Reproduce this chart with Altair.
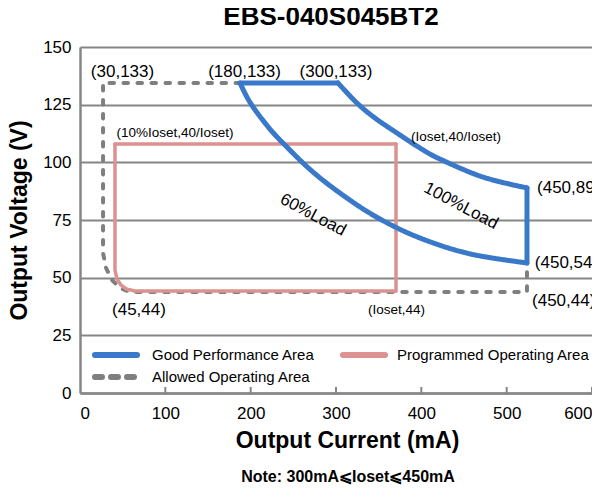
import altair as alt
import pandas as pd

FONT = "Liberation Sans, Arial, Helvetica, sans-serif"
SERIES = ["Good Performance Area", "Allowed Operating Area", "Programmed Operating Area"]
COLORS = ["#3a78c9", "#7f7f7f", "#dc9291"]
DASHES = [[1, 0], [4.5, 9.5], [1, 0]]

# Good performance area (blue) pieces
good_top_x = [187.5, 302.3]
good_top_y = [134.4, 134.4]
good_outer_x = [302.3, 324.6, 345.7, 371.5, 398.4, 421.9, 472.3, 523.8]
good_outer_y = [134.4, 125.7, 119.2, 112.7, 106.2, 101.4, 93.6, 88.9]
good_right_x = [523.8, 523.8]
good_right_y = [88.9, 56.4]
good_inner_x = [523.8, 457.0, 398.4, 351.6, 312.9, 273.0, 236.7, 218.0, 199.2, 187.5]
good_inner_y = [56.4, 60.3, 67.2, 75.4, 84.5, 95.8, 108.8, 116.5, 126.0, 134.4]

# Programmed operating area (pink) pieces
prog_top_x = [41.0, 370.3]
prog_top_y = [108.0, 108.0]
prog_right_x = [370.3, 370.3]
prog_right_y = [108.0, 44.2]
prog_left_x = [41.0, 41.0, 43.4, 48.0, 55.0, 64.5, 370.3]
prog_left_y = [108.0, 53.3, 49.4, 46.8, 45.0, 44.2, 44.2]

# Allowed operating area (gray dashed)
allow_x = [187.5, 27.0, 27.0, 30.5, 37.5, 46.9, 58.6, 523.8, 523.8]
allow_y = [134.4, 134.4, 60.7, 54.2, 49.0, 45.5, 43.8, 43.8, 56.4]

# annotations
big_text = ["(30,133)", "(180,133)", "(300,133)", "(45,44)"]
big_x = [49.8, 192.8, 300.0, 69.1]
big_y = [139.2, 139.2, 139.2, 36.0]
right_text = ["(450,89)", "(450,54)", "(450,44)"]
right_x = [535.6, 533.0, 529.7]
right_y = [88.9, 56.4, 39.9]
small_text = ["(10%Ioset,40/Ioset)", "(Ioset,40/Ioset)", "(Ioset,44)"]
small_x = [111.3, 440.6, 370.9]
small_y = [112.7, 111.0, 36.0]
load_text = ["60%Load", "100%Load"]
load_x = [273.0, 446.5]
load_y = [77.2, 81.1]

x_ticks = [0, 100, 200, 300, 400, 500, 600]
y_ticks = [0, 25, 50, 75, 100, 125, 150]


def pieces(series, parts):
    rows = []
    for seg, (xs, ys) in enumerate(parts):
        for i, (xv, yv) in enumerate(zip(xs, ys)):
            rows.append({"series": series, "seg": seg, "ord": i, "x": xv, "y": yv})
    return pd.DataFrame(rows)


good_df = pieces(SERIES[0], [(good_top_x, good_top_y), (good_outer_x, good_outer_y),
                             (good_right_x, good_right_y), (good_inner_x, good_inner_y)])
prog_df = pieces(SERIES[2], [(prog_top_x, prog_top_y), (prog_right_x, prog_right_y),
                             (prog_left_x, prog_left_y)])
allow_df = pieces(SERIES[1], [(allow_x, allow_y)])

xscale = alt.Scale(domain=[0, 600], nice=False, zero=False)
yscale = alt.Scale(domain=[0, 150], nice=False, zero=False)

x_enc = alt.X("x:Q", scale=xscale, axis=alt.Axis(
    values=x_ticks, grid=False, ticks=False, labelFontSize=17, labelPadding=12,
    labelColor="#000000", labelFont=FONT, domainColor="#868686", domainWidth=2.5,
    title="Output Current (mA)", titleFontSize=23, titleFont=FONT, titleFontWeight="bold",
    titleColor="#000000", titleX=267, titleY=47, titleAlign="center", titleBaseline="middle"))
y_enc = alt.Y("y:Q", scale=yscale, axis=alt.Axis(
    values=y_ticks, grid=True, gridColor="#868686", gridWidth=2, ticks=False,
    labelFontSize=17, labelPadding=9, labelColor="#000000", labelFont=FONT,
    domainColor="#868686", domainWidth=2.5,
    title="Output Voltage (V)", titleFontSize=23, titleFont=FONT, titleFontWeight="bold",
    titleColor="#000000", titleX=-61, titleY=173, titleAngle=-90, titleAlign="center",
    titleBaseline="middle"))

color_enc = alt.Color("series:N", scale=alt.Scale(domain=SERIES, range=COLORS), legend=None)
dash_enc = alt.StrokeDash("series:N", scale=alt.Scale(domain=SERIES, range=DASHES), legend=None)


def line_layer(df, width, cap, interp):
    return alt.Chart(df).mark_line(strokeWidth=width, strokeCap=cap, strokeJoin="round",
                                   interpolate=interp).encode(
        x=x_enc, y=y_enc, color=color_enc, strokeDash=dash_enc,
        detail="seg:N", order="ord:Q")


allow_layer = line_layer(allow_df, 4, "round", "linear")
prog_layer = line_layer(prog_df, 3.5, "round", "linear")
good_layer = line_layer(good_df, 5, "round", "cardinal")

tick_layer = alt.Chart(pd.DataFrame({"t": x_ticks[1:]})).mark_rule(
    color="#868686", strokeWidth=2).encode(
    x=alt.X("t:Q", scale=xscale), y=alt.value(346), y2=alt.value(340))

big_layer = alt.Chart(pd.DataFrame({"t": big_text, "x": big_x, "y": big_y})).mark_text(
    fontSize=17, font=FONT, color="#000000", align="center", baseline="middle").encode(
    x=alt.X("x:Q", scale=xscale), y=alt.Y("y:Q", scale=yscale), text="t:N")
right_layer = alt.Chart(pd.DataFrame({"t": right_text, "x": right_x, "y": right_y})).mark_text(
    fontSize=17, font=FONT, color="#000000", align="left", baseline="middle").encode(
    x=alt.X("x:Q", scale=xscale), y=alt.Y("y:Q", scale=yscale), text="t:N")
small_layer = alt.Chart(pd.DataFrame({"t": small_text, "x": small_x, "y": small_y})).mark_text(
    fontSize=13.5, font=FONT, color="#000000", align="center", baseline="middle").encode(
    x=alt.X("x:Q", scale=xscale), y=alt.Y("y:Q", scale=yscale), text="t:N")
load_layer = alt.Chart(pd.DataFrame({"t": load_text, "x": load_x, "y": load_y})).mark_text(
    fontSize=17, font=FONT, color="#000000", align="center", baseline="middle", angle=28).encode(
    x=alt.X("x:Q", scale=xscale), y=alt.Y("y:Q", scale=yscale), text="t:N")

# custom legend (inside the plot, lower-left)
one = pd.DataFrame({"k": [0]})
leg_layers = []
for name, color, dash, (sx, sy, lx) in zip(
        SERIES, COLORS, [None, [7, 9], None],
        [(15, 308, 72), (15, 330, 72), (263, 308, 317)]):
    kw = dict(color=color, strokeWidth=6, strokeCap="round")
    if dash is not None:
        kw["strokeDash"] = dash
    leg_layers.append(alt.Chart(one).mark_rule(**kw).encode(
        x=alt.value(sx), x2=alt.value(sx + 42), y=alt.value(sy)))
    leg_layers.append(alt.Chart(one).mark_text(
        fontSize=15, font=FONT, color="#000000", align="left", baseline="middle").encode(
        x=alt.value(lx), y=alt.value(sy), text=alt.value(name)))

note_layer = alt.Chart(pd.DataFrame({"t": ["Note:  300mA\u2a7dIoset\u2a7d450mA"]})).mark_text(
    fontSize=16, font=FONT, fontWeight="bold", color="#000000", align="center",
    baseline="middle").encode(x=alt.value(268), y=alt.value(430), text="t:N")

chart = alt.layer(
    allow_layer, prog_layer, good_layer, tick_layer,
    big_layer, right_layer, small_layer, load_layer, *leg_layers, note_layer
).properties(
    width=512, height=346,
    padding={"left": 72, "top": 39, "right": 0, "bottom": 93},
    autosize=alt.AutoSizeParams(type="none"),
    title=alt.TitleParams("EBS-040S045BT2", fontSize=26, font=FONT, fontWeight="bold",
                          color="#000000", anchor="middle", dx=-5, offset=8),
).configure_view(stroke=None).configure(background="white")

chart.save("out.html", embed_options={"renderer": "svg", "actions": False})
